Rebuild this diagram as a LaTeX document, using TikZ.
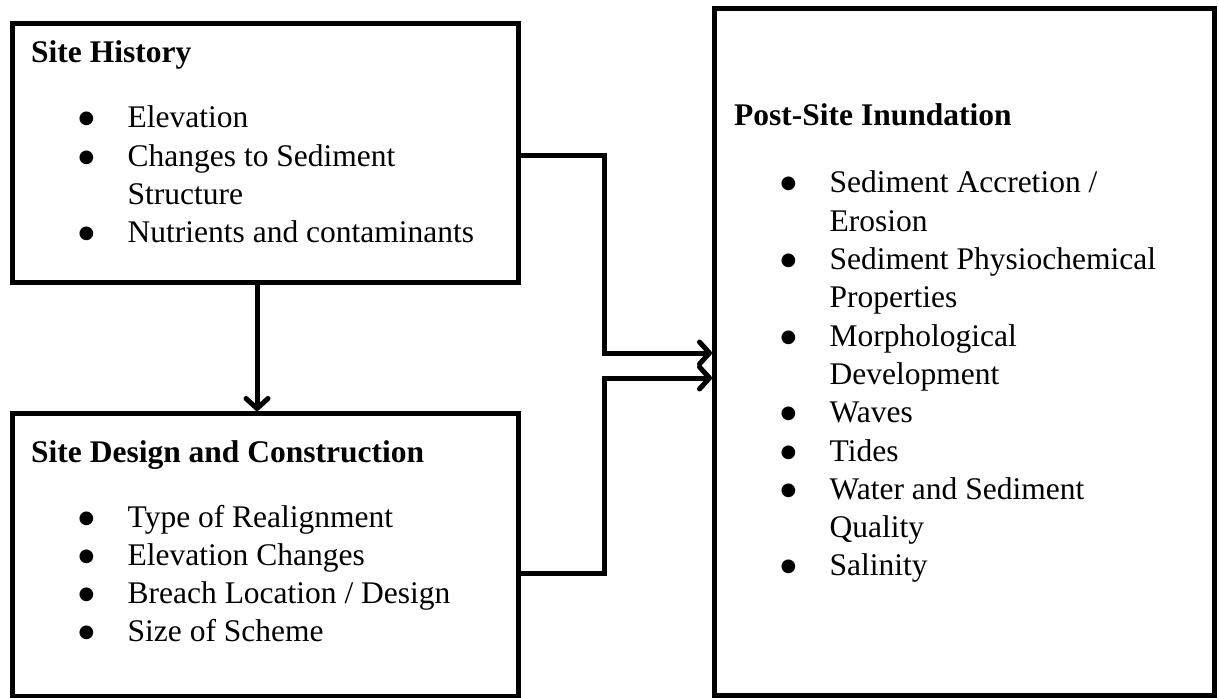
\documentclass[tikz,border=0pt]{standalone}
\usepackage{fontspec}
\setmainfont{Liberation Serif}
\newfontfamily\dejavu{DejaVu Sans}
\usetikzlibrary{arrows.meta}
\newcommand{\bul}{\makebox[49pt][l]{\raisebox{4pt}[0pt][0pt]{\dejavu\fontsize{18}{18}\selectfont ●}}}
\newcommand{\nob}{\makebox[49pt]{}}
\begin{document}
\begin{tikzpicture}[x=1pt,y=-1pt,
  box/.style={draw=black, line width=5pt, rectangle, anchor=north west, inner sep=0pt},
  ttl/.style={anchor=base west, inner sep=0pt, font=\fontsize{31.5}{38.3}\selectfont\bfseries},
  lst/.style={anchor=base west, inner sep=0pt, font=\fontsize{31.5}{38.3}\selectfont},
  conn/.style={draw=black, line width=5pt, line join=miter},
  arr/.style={conn, -{Straight Barb[length=10pt,width=22pt,line cap=round,line join=round]}}]
\useasboundingbox (0,0) rectangle (1219,698);
\fill[white] (0,0) rectangle (1219,698);
% boxes
\node[box, minimum width=506.5pt, minimum height=259pt] (sh) at (9.5,21) {};
\node[box, minimum width=506.5pt, minimum height=283pt] (sd) at (9.5,411) {};
\node[box, minimum width=500pt, minimum height=687pt] (ps) at (712,6) {};
% texts
\node[ttl] (sht) at (31,63) {Site History};
\node[lst] (shl) at (78.5,128) {\begin{tabular}[t]{@{}l@{}l@{}}
\bul & Elevation\\
\bul & Changes to Sediment\\
\nob & Structure\\
\bul & Nutrients and contaminants
\end{tabular}};
\node[ttl] (sdt) at (31,462) {Site Design and Construction};
\node[lst] (sdl) at (78.5,527) {\begin{tabular}[t]{@{}l@{}l@{}}
\bul & Type of Realignment\\
\bul & Elevation Changes\\
\bul & Breach Location / Design\\
\bul & Size of Scheme
\end{tabular}};
\node[ttl] (pst) at (734,126) {Post-Site Inundation};
\node[lst] (psl) at (780.5,193) {\begin{tabular}[t]{@{}l@{}l@{}}
\bul & Sediment Accretion /\\
\nob & Erosion\\
\bul & Sediment Physiochemical\\
\nob & Properties\\
\bul & Morphological\\
\nob & Development\\
\bul & Waves\\
\bul & Tides\\
\bul & Water and Sediment\\
\nob & Quality\\
\bul & Salinity
\end{tabular}};
% connector points
\coordinate (j1) at (604,156);
\coordinate (a1) at (604,353);
\coordinate (j2) at (604,573);
\coordinate (a2) at (604,378);
\coordinate (v) at (257,0);
% connectors
\draw[arr] (sh.south -| v) -- (sd.north -| v);
\draw[arr] (sh.east |- j1) -- (j1) -- (a1) -- (ps.west |- a1);
\draw[arr] (sd.east |- j2) -- (j2) -- (a2) -- (ps.west |- a2);
\end{tikzpicture}
\end{document}
